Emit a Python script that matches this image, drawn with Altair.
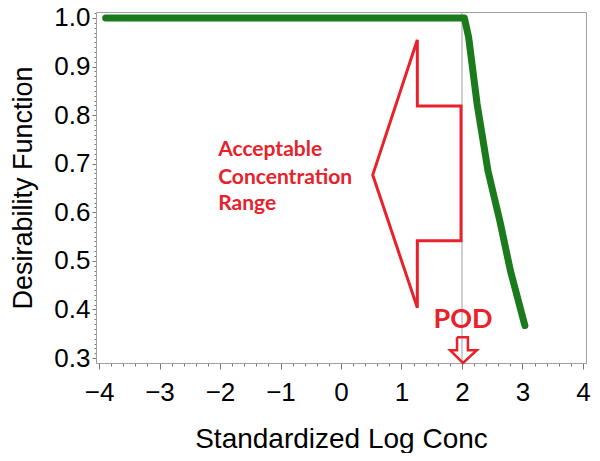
import altair as alt
import pandas as pd

# --- data ---
curve_x = [-3.89, 2.04, 2.11, 2.25, 2.43, 2.63, 2.80, 3.04]
curve_y = [1.0, 1.0, 0.96, 0.823, 0.685, 0.58, 0.48, 0.367]

arrow_x = [1.262, 1.262, 1.984, 1.984, 1.262, 1.262, 0.525, 1.262]
arrow_y = [0.955, 0.819, 0.819, 0.5415, 0.5415, 0.4035, 0.677, 0.955]

pod_arrow_x = [1.918, 2.098, 2.098, 2.246, 2.016, 1.803, 1.918, 1.918]
pod_arrow_y = [0.3427, 0.3427, 0.3163, 0.3163, 0.2899, 0.3163, 0.3163, 0.3427]

pod_x = 2.0
range_lines = ["Acceptable", "Concentration", "Range"]
range_text_x = -2.03
range_text_y = [0.716, 0.659, 0.604]
pod_label = "POD"
pod_label_x = 2.016
pod_label_y = 0.361

x_major = [-4, -3, -2, -1, 0, 1, 2, 3, 4]
y_major = [0.3, 0.4, 0.5, 0.6, 0.7, 0.8, 0.9, 1.0]
x_minor = [round(-4 + 0.2 * i, 2) for i in range(41)]
y_minor = [round(0.30 + 0.01 * i, 2) for i in range(72)]

x_domain = [-4.05, 4.05]
y_domain = [0.2899, 1.0122]

RED = "#e8212b"
GREEN = "#1b7a1b"
AXFONT = "Liberation Sans"
GRAY = "#a0a0a0"
TICK = "#777777"

x_axis = alt.Axis(
    orient="bottom", values=x_major, format="d",
    title="Standardized Log Conc",
    tickSize=6, tickColor=TICK,
    labelFont=AXFONT, labelFontSize=26, labelColor="black",
    titleFont=AXFONT, titleFontSize=28, titleFontWeight="normal", titleColor="black",
    domainColor=GRAY, grid=False,
    labelOverlap=False, labelFlush=False, labelPadding=10, titlePadding=20,
)
y_axis = alt.Axis(
    orient="left", values=y_major, format=".1f",
    title="Desirability Function",
    tickSize=4, tickColor=TICK,
    labelFont=AXFONT, labelFontSize=26, labelColor="black",
    titleFont=AXFONT, titleFontSize=27, titleFontWeight="normal", titleColor="black",
    domainColor=GRAY, grid=False,
    labelOverlap=False, labelFlush=False, labelPadding=2, titlePadding=16,
)
x_minor_axis = alt.Axis(
    orient="bottom", values=x_minor, labels=False, title=None, tickSize=3,
    tickColor=TICK, domain=False, grid=False,
)
y_minor_axis = alt.Axis(
    orient="left", values=y_minor, labels=False, title=None, tickSize=2,
    tickColor=TICK, domain=False, grid=False,
)

xs = alt.Scale(domain=x_domain, nice=False, zero=False)
ys = alt.Scale(domain=y_domain, nice=False, zero=False)

def X(axis=None):
    return alt.X("x:Q", scale=xs, axis=axis)

def Y(axis=None):
    return alt.Y("y:Q", scale=ys, axis=axis)

curve_df = pd.DataFrame({"x": curve_x, "y": curve_y, "i": range(len(curve_x))})
arrow_df = pd.DataFrame({"x": arrow_x, "y": arrow_y, "i": range(len(arrow_x))})
pod_arrow_df = pd.DataFrame({"x": pod_arrow_x, "y": pod_arrow_y, "i": range(len(pod_arrow_x))})
rule_df = pd.DataFrame({"x": [pod_x]})
text_df = pd.DataFrame({"x": [range_text_x] * 3, "y": range_text_y, "t": range_lines})
pod_df = pd.DataFrame({"x": [pod_label_x], "y": [pod_label_y], "t": [pod_label]})

minor = alt.Chart(curve_df).mark_point(opacity=0).encode(x=X(x_minor_axis), y=Y(y_minor_axis))

rule = alt.Chart(rule_df).mark_rule(color=GRAY, strokeWidth=1).encode(x=X())

curve = alt.Chart(curve_df).mark_line(color=GREEN, strokeWidth=7, strokeCap="round", strokeJoin="round").encode(
    x=X(x_axis), y=Y(y_axis), order="i:Q")

arrow = alt.Chart(arrow_df).mark_line(color=RED, strokeWidth=3, strokeJoin="miter").encode(
    x=X(), y=Y(), order="i:Q")

pod_arrow = alt.Chart(pod_arrow_df).mark_line(color=RED, strokeWidth=2.5, strokeJoin="miter").encode(
    x=X(), y=Y(), order="i:Q")

range_text = alt.Chart(text_df).mark_text(
    color=RED, font="Lato", fontWeight="bold", fontSize=21, align="left", baseline="alphabetic"
).encode(x=X(), y=Y(), text="t:N")

pod_text = alt.Chart(pod_df).mark_text(
    color=RED, font="Lato", fontWeight="bold", fontSize=27, align="center", baseline="alphabetic"
).encode(x=X(), y=Y(), text="t:N")

chart = alt.layer(minor, rule, curve, arrow, pod_arrow, range_text, pod_text).resolve_axis(
    x="independent", y="independent"
).properties(
    width=490, height=351,
    autosize=alt.AutoSizeParams(type="none"),
    padding={"left": 88, "top": 4, "right": 6, "bottom": 90},
    background="white",
).configure_view(stroke=GRAY, strokeWidth=1)

chart.save("out.html", embed_options={"renderer": "svg", "actions": False})
